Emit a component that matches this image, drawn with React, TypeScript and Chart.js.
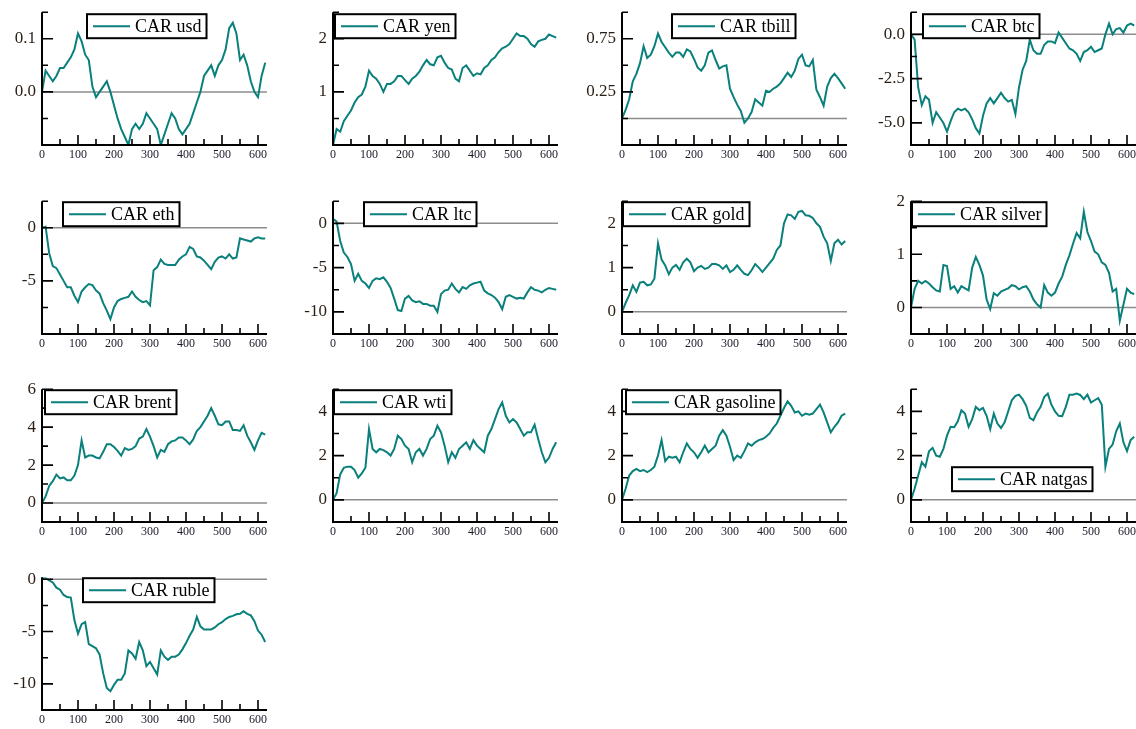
import React, { useEffect, useRef } from "react";
import { Chart, registerables } from "chart.js";

Chart.register(...registerables);

// Event-day index shared by every series (one reading every 10 days)
const DAYS = [
  0, 10, 20, 30, 40, 50, 60, 70, 80, 90, 100, 110, 120, 130, 140, 150, 160, 170, 180, 190,
  200, 210, 220, 230, 240, 250, 260, 270, 280, 290, 300, 310, 320, 330, 340, 350, 360, 370, 380, 390,
  400, 410, 420, 430, 440, 450, 460, 470, 480, 490, 500, 510, 520, 530, 540, 550, 560, 570, 580, 590,
  600, 610, 620,
];

// Cumulative abnormal returns
const CAR_USD = [
  0.0, 0.04, 0.03, 0.02, 0.03, 0.045, 0.045, 0.055, 0.065, 0.08,
  0.11, 0.095, 0.07, 0.06, 0.01, -0.01, 0.0, 0.01, 0.02, 0.0,
  -0.025, -0.05, -0.07, -0.085, -0.1, -0.07, -0.06, -0.07, -0.06, -0.04,
  -0.05, -0.06, -0.07, -0.1, -0.08, -0.06, -0.04, -0.05, -0.07, -0.08,
  -0.07, -0.06, -0.04, -0.02, 0.0, 0.03, 0.04, 0.05, 0.03, 0.05,
  0.06, 0.08, 0.12, 0.13, 0.11, 0.06, 0.07, 0.05, 0.02, 0.0,
  -0.01, 0.03, 0.055,
];
const CAR_YEN = [
  0.0, 0.3, 0.25, 0.45, 0.55, 0.65, 0.8, 0.9, 0.95, 1.1,
  1.4, 1.3, 1.25, 1.15, 1.0, 1.15, 1.15, 1.2, 1.3, 1.3,
  1.22, 1.15, 1.25, 1.3, 1.38, 1.5, 1.6, 1.52, 1.5, 1.65,
  1.68, 1.55, 1.45, 1.42, 1.25, 1.2, 1.45, 1.5, 1.4, 1.3,
  1.35, 1.33, 1.45, 1.5, 1.6, 1.65, 1.75, 1.82, 1.85, 1.9,
  2.0, 2.1, 2.05, 2.05, 2.0, 1.9, 1.85, 1.95, 1.98, 2.0,
  2.08, 2.05, 2.02,
];
const CAR_TBILL = [
  0.0, 0.08, 0.18, 0.35, 0.42, 0.52, 0.68, 0.57, 0.6, 0.68,
  0.8, 0.72, 0.67, 0.62, 0.58, 0.62, 0.62, 0.58, 0.65, 0.63,
  0.56, 0.48, 0.45, 0.5, 0.62, 0.64, 0.55, 0.47, 0.49, 0.5,
  0.28, 0.2, 0.13, 0.07, -0.04, 0.0, 0.06, 0.18, 0.15, 0.12,
  0.26, 0.25, 0.28, 0.3, 0.33, 0.38, 0.43, 0.39, 0.45, 0.56,
  0.6, 0.5, 0.49, 0.55, 0.27, 0.2, 0.12, 0.3, 0.38, 0.42,
  0.38, 0.33, 0.28,
];
const CAR_BTC = [
  0.0, -0.3, -3.0, -4.0, -3.5, -3.7, -5.0, -4.4, -4.7, -5.0,
  -5.5, -4.9, -4.4, -4.2, -4.3, -4.2, -4.4, -4.8, -5.3, -5.6,
  -4.6, -3.9, -3.6, -3.9, -3.6, -3.3, -3.6, -3.8, -3.7, -4.5,
  -3.0, -2.0, -1.5, -0.3, -0.9, -1.1, -1.1, -0.6, -0.4, -0.4,
  -0.5, 0.1, -0.2, -0.5, -0.8, -0.9, -1.1, -1.5, -1.0, -0.9,
  -0.7, -1.0, -0.9, -0.8, 0.0, 0.6, 0.0, 0.3, 0.35, 0.1,
  0.5, 0.6, 0.5,
];
const CAR_ETH = [
  0.0, 0.1, -2.4, -3.6, -3.8, -4.4, -5.0, -5.6, -5.6, -6.4,
  -7.0, -6.0, -5.6, -5.3, -5.4, -5.9, -6.2, -7.1, -7.8, -8.6,
  -7.5, -6.9, -6.7, -6.6, -6.5, -6.0, -6.5, -6.8, -7.0, -6.9,
  -7.3, -4.0, -3.7, -3.0, -3.4, -3.5, -3.5, -3.5, -3.0, -2.7,
  -2.5, -1.8, -2.0, -2.7, -2.8, -3.1, -3.5, -3.9, -3.2, -2.8,
  -2.7, -2.9, -2.5, -2.9, -2.8, -1.0, -1.1, -1.2, -1.3, -1.0,
  -0.9, -1.0, -1.0,
];
const CAR_LTC = [
  0.5, 0.2, -2.0, -3.3, -3.8, -4.6, -6.5, -5.7, -6.5, -6.8,
  -7.3, -6.5, -6.2, -6.3, -6.1, -6.6, -7.3, -8.5, -9.8, -9.9,
  -8.5, -8.2, -8.7, -8.9, -8.8, -9.1, -9.1, -9.3, -9.3, -10.0,
  -8.0, -7.6, -7.5, -6.8, -7.4, -7.8, -7.2, -7.4, -7.0, -6.8,
  -6.7, -6.6, -7.6, -7.9, -8.1, -8.4, -8.9, -9.7, -8.3, -8.1,
  -8.3, -8.5, -8.4, -8.5, -7.8, -7.2, -7.5, -7.6, -7.8, -7.5,
  -7.3, -7.4, -7.5,
];
const CAR_GOLD = [
  0.0, 0.2, 0.38, 0.6, 0.45, 0.66, 0.68, 0.6, 0.62, 0.75,
  1.55, 1.18, 1.05, 0.85, 1.0, 1.06, 0.95, 1.12, 1.2, 1.12,
  0.92, 1.0, 1.04, 0.97, 1.0, 1.08, 1.08, 1.05, 0.97, 1.05,
  0.9, 0.95, 1.05, 0.95, 0.86, 0.83, 0.94, 1.08, 1.0, 0.9,
  1.0, 1.1, 1.2, 1.4, 1.5, 2.0, 2.2, 2.18, 2.1, 2.26,
  2.28, 2.18, 2.17, 2.12, 2.0, 1.92, 1.7, 1.55, 1.15, 1.55,
  1.63, 1.52, 1.6,
];
const CAR_SILVER = [
  0.0, 0.35, 0.5, 0.45, 0.5, 0.45, 0.38, 0.32, 0.3, 0.8,
  0.78, 0.35, 0.4, 0.28, 0.4, 0.36, 0.32, 0.75, 0.95, 0.8,
  0.6, 0.15, -0.03, 0.27, 0.22, 0.3, 0.33, 0.36, 0.42, 0.4,
  0.34, 0.38, 0.4, 0.3, 0.15, 0.06, 0.0, 0.42, 0.28, 0.22,
  0.28, 0.45, 0.58, 0.8, 0.98, 1.2, 1.4, 1.3, 1.8, 1.42,
  1.25, 1.05, 1.0, 0.85, 0.8, 0.65, 0.3, 0.35, -0.25, 0.05,
  0.35, 0.28, 0.25,
];
const CAR_BRENT = [
  0.0, 0.35, 0.9, 1.15, 1.5, 1.3, 1.35, 1.2, 1.2, 1.45,
  2.0, 3.3, 2.4, 2.5, 2.5, 2.4, 2.35, 2.7, 3.1, 3.1,
  2.95, 2.75, 2.5, 2.9, 2.8, 2.85, 3.0, 3.4, 3.5, 3.9,
  3.5, 3.0, 2.4, 2.8, 2.7, 3.1, 3.25, 3.3, 3.45, 3.45,
  3.3, 3.1, 3.35, 3.8, 4.0, 4.3, 4.6, 5.0, 4.6, 4.15,
  4.1, 4.3, 4.3, 3.85, 3.85, 3.8, 4.1, 3.55, 3.2, 2.8,
  3.3, 3.7, 3.6,
];
const CAR_WTI = [
  0.0, 0.3, 1.15, 1.45, 1.5, 1.5, 1.35, 1.0, 1.2, 1.45,
  3.2, 2.3, 2.15, 2.3, 2.25, 2.15, 2.0, 2.3, 2.9, 2.75,
  2.45, 2.3, 1.7, 2.15, 2.3, 2.0, 2.3, 2.75, 2.9, 3.35,
  3.05, 2.45, 1.7, 2.15, 1.9, 2.3, 2.45, 2.6, 2.3, 2.7,
  2.45, 2.3, 2.15, 2.9, 3.2, 3.65, 4.1, 4.4, 3.8, 3.5,
  3.65, 3.5, 3.2, 2.9, 3.05, 3.05, 3.4, 2.75, 2.15, 1.7,
  1.9, 2.3, 2.6,
];
const CAR_GASOLINE = [
  0.0, 0.5, 1.1, 1.3, 1.4, 1.3, 1.35, 1.25, 1.35, 1.5,
  2.0, 2.7, 1.75, 1.95, 1.9, 1.95, 1.7, 2.15, 2.55, 2.3,
  2.15, 1.9, 2.15, 2.45, 2.15, 2.3, 2.45, 2.9, 3.15, 2.9,
  2.4, 1.8, 2.0, 1.9, 2.2, 2.55, 2.45, 2.6, 2.7, 2.75,
  2.85, 3.0, 3.25, 3.45, 3.8, 4.15, 4.45, 4.25, 3.95, 4.0,
  3.8, 3.9, 3.85, 3.9, 4.1, 4.3, 3.95, 3.5, 3.05, 3.3,
  3.5, 3.8, 3.9,
];
const CAR_NATGAS = [
  0.0, 0.5, 1.1, 1.7, 1.5, 2.2, 2.35, 2.0, 1.95, 2.3,
  2.9, 3.3, 3.28, 3.55, 4.05, 3.9, 3.3, 3.65, 4.2, 4.05,
  4.15, 3.8, 3.2, 3.9, 3.45, 3.25, 3.5, 4.0, 4.5, 4.7,
  4.75, 4.55, 4.25, 3.7, 3.6, 3.95, 4.2, 4.65, 4.8, 4.3,
  4.0, 3.8, 3.78, 4.2, 4.75, 4.75, 4.8, 4.74, 4.55, 4.75,
  4.4, 4.5, 4.6, 4.3, 1.5, 2.3, 2.5, 3.1, 3.45, 2.6,
  2.2, 2.7, 2.85,
];
const CAR_RUBLE = [
  0.1, 0.1, -0.1, -0.3, -0.8, -1.0, -1.5, -1.7, -1.75, -3.9,
  -5.2, -4.3, -4.1, -6.2, -6.4, -6.6, -7.2, -9.0, -10.4, -10.7,
  -10.1, -9.6, -9.6, -9.0, -6.8, -7.1, -7.6, -6.0, -6.8, -8.3,
  -7.9, -8.5, -9.1, -6.8, -7.4, -7.7, -7.4, -7.4, -7.2, -6.7,
  -6.1, -5.4, -4.8, -3.6, -4.5, -4.8, -4.8, -4.8, -4.6, -4.3,
  -4.1, -3.8, -3.6, -3.5, -3.35, -3.3, -3.05, -3.3, -3.45, -4.0,
  -4.9, -5.3, -6.0,
];

// Axis tick labels
const X_TICKS = [0, 50, 100, 150, 200, 250, 300, 350, 400, 450, 500, 550, 600];
const X_TICK_LABELS = ["0", "100", "200", "300", "400", "500", "600"];
const Y_LABELS_USD = ["0.1", "0.0"];
const Y_LABELS_YEN = ["2", "1"];
const Y_LABELS_TBILL = ["0.75", "0.25"];
const Y_LABELS_BTC = ["0.0", "-2.5", "-5.0"];
const Y_LABELS_ETH = ["0", "-5"];
const Y_LABELS_LTC = ["0", "-5", "-10"];
const Y_LABELS_GOLD = ["2", "1", "0"];
const Y_LABELS_SILVER = ["2", "1", "0"];
const Y_LABELS_BRENT = ["6", "4", "2", "0"];
const Y_LABELS_OIL = ["4", "2", "0"];
const Y_LABELS_RUBLE = ["0", "-5", "-10"];

type Panel = {
  name: string;
  values: number[];
  yMin: number;
  yMax: number;
  yStep: number;
  yLabels: string[];
  col: number;
  row: number;
  legendDx: number;
  legendDy: number;
};

const PANELS: Panel[] = [
  { name: "CAR usd", values: CAR_USD, yMin: -0.1, yMax: 0.15, yStep: 0.05, yLabels: Y_LABELS_USD, col: 0, row: 0, legendDx: 45, legendDy: 2 },
  { name: "CAR yen", values: CAR_YEN, yMin: 0, yMax: 2.5, yStep: 0.5, yLabels: Y_LABELS_YEN, col: 1, row: 0, legendDx: 2, legendDy: 2 },
  { name: "CAR tbill", values: CAR_TBILL, yMin: -0.25, yMax: 1.0, yStep: 0.25, yLabels: Y_LABELS_TBILL, col: 2, row: 0, legendDx: 50, legendDy: 2 },
  { name: "CAR btc", values: CAR_BTC, yMin: -6.25, yMax: 1.25, yStep: 1.25, yLabels: Y_LABELS_BTC, col: 3, row: 0, legendDx: 12, legendDy: 2 },
  { name: "CAR eth", values: CAR_ETH, yMin: -10, yMax: 2.5, yStep: 2.5, yLabels: Y_LABELS_ETH, col: 0, row: 1, legendDx: 21, legendDy: 1 },
  { name: "CAR ltc", values: CAR_LTC, yMin: -12.5, yMax: 2.5, yStep: 2.5, yLabels: Y_LABELS_LTC, col: 1, row: 1, legendDx: 31, legendDy: 1 },
  { name: "CAR gold", values: CAR_GOLD, yMin: -0.5, yMax: 2.5, yStep: 0.5, yLabels: Y_LABELS_GOLD, col: 2, row: 1, legendDx: 1, legendDy: 1 },
  { name: "CAR silver", values: CAR_SILVER, yMin: -0.5, yMax: 2.0, yStep: 0.5, yLabels: Y_LABELS_SILVER, col: 3, row: 1, legendDx: 1, legendDy: 1 },
  { name: "CAR brent", values: CAR_BRENT, yMin: -1, yMax: 6, yStep: 1, yLabels: Y_LABELS_BRENT, col: 0, row: 2, legendDx: 3, legendDy: 1 },
  { name: "CAR wti", values: CAR_WTI, yMin: -1, yMax: 5, yStep: 1, yLabels: Y_LABELS_OIL, col: 1, row: 2, legendDx: 1, legendDy: 1 },
  { name: "CAR gasoline", values: CAR_GASOLINE, yMin: -1, yMax: 5, yStep: 1, yLabels: Y_LABELS_OIL, col: 2, row: 2, legendDx: 4, legendDy: 1 },
  { name: "CAR natgas", values: CAR_NATGAS, yMin: -1, yMax: 5, yStep: 1, yLabels: Y_LABELS_OIL, col: 3, row: 2, legendDx: 41, legendDy: 78 },
  { name: "CAR ruble", values: CAR_RUBLE, yMin: -12.5, yMax: 0.2, yStep: 2.5, yLabels: Y_LABELS_RUBLE, col: 0, row: 3, legendDx: 41, legendDy: 1 },
];

// Layout of the 4-column grid (page pixels)
const COL_LEFT = [42, 333, 622, 911];
const ROW_TOP = [8, 197, 385, 573];
const AREA_W = 225;
const AREA_H = 137;
const Y_AXIS_W = 46;
const PAD_T = 12;
const PAD_R = 6;
const X_AXIS_H = 22;
const CANVAS_W = Y_AXIS_W + AREA_W + PAD_R;
const CANVAS_H = PAD_T + AREA_H + X_AXIS_H;

const X_MAX = 625;
const LINE_COLOR = "#0a807c";
const ZERO_COLOR = "#8c8c8c";
const SERIF = '"Liberation Serif", "Times New Roman", serif';

function yTickValues(p: Panel): number[] {
  const out: number[] = [];
  const start = Math.ceil(p.yMin / p.yStep - 1e-9);
  for (let k = start; k * p.yStep <= p.yMax + 1e-9; k++) {
    out.push(Math.round(k * p.yStep * 1e6) / 1e6);
  }
  return out;
}

function labelFor(labels: string[], v: number): string {
  const hit = labels.find((l) => Math.abs(parseFloat(l) - v) < 1e-6);
  return hit ?? "";
}

// Axes with inward ticks, the zero reference line and the boxed legend
const panelFrame = {
  id: "panelFrame",
  beforeDatasetsDraw(chart: any) {
    const { ctx, chartArea: a, scales } = chart;
    const y0 = scales.y.getPixelForValue(0);
    if (y0 >= a.top - 0.5 && y0 <= a.bottom + 0.5) {
      ctx.save();
      ctx.strokeStyle = ZERO_COLOR;
      ctx.lineWidth = 1.5;
      ctx.beginPath();
      ctx.moveTo(a.left, y0);
      ctx.lineTo(a.right, y0);
      ctx.stroke();
      ctx.restore();
    }
  },
  afterDatasetsDraw(chart: any, _args: any, opts: any) {
    const { ctx, chartArea: a, scales } = chart;
    ctx.save();
    ctx.strokeStyle = "#000";
    ctx.lineWidth = 2;
    ctx.beginPath();
    ctx.moveTo(a.left, a.top);
    ctx.lineTo(a.left, a.bottom);
    ctx.lineTo(a.right, a.bottom);
    ctx.stroke();

    ctx.lineWidth = 1.6;
    ctx.beginPath();
    for (const t of scales.x.ticks) {
      const px = scales.x.getPixelForValue(t.value);
      const len = X_TICK_LABELS.includes(String(t.value)) ? 10 : 6;
      ctx.moveTo(px, a.bottom);
      ctx.lineTo(px, a.bottom - len);
    }
    for (const t of scales.y.ticks) {
      const py = scales.y.getPixelForValue(t.value);
      const len = labelFor(opts.yLabels, t.value) ? 11 : 6;
      ctx.moveTo(a.left, py);
      ctx.lineTo(a.left + len, py);
    }
    ctx.stroke();

    // legend
    ctx.font = `18px ${SERIF}`;
    const textW = ctx.measureText(opts.name).width;
    const bx = a.left + opts.legendDx;
    const by = a.top + opts.legendDy;
    const bw = 6 + 37 + 5 + textW + 5;
    const bh = 24;
    ctx.fillStyle = "#fff";
    ctx.fillRect(bx, by, bw, bh);
    ctx.strokeStyle = "#000";
    ctx.lineWidth = 2;
    ctx.strokeRect(bx, by, bw, bh);
    ctx.strokeStyle = LINE_COLOR;
    ctx.lineWidth = 2;
    ctx.beginPath();
    ctx.moveTo(bx + 6, by + bh / 2);
    ctx.lineTo(bx + 43, by + bh / 2);
    ctx.stroke();
    ctx.fillStyle = "#000";
    ctx.textBaseline = "middle";
    ctx.textAlign = "left";
    ctx.fillText(opts.name, bx + 48, by + bh / 2 + 1);
    ctx.restore();
  },
};

function PanelChart({ panel }: { panel: Panel }) {
  const ref = useRef<HTMLCanvasElement>(null);

  useEffect(() => {
    if (!ref.current) return;
    const yTicks = yTickValues(panel);
    const chart = new Chart(ref.current, {
      type: "line",
      data: {
        datasets: [
          {
            label: panel.name,
            data: DAYS.map((d, i) => ({ x: d, y: panel.values[i] })),
            borderColor: LINE_COLOR,
            borderWidth: 2,
            pointRadius: 0,
            fill: false,
            tension: 0,
          },
        ],
      },
      options: {
        animation: false,
        responsive: false,
        maintainAspectRatio: false,
        events: [],
        layout: { padding: { top: PAD_T, right: PAD_R, left: 0, bottom: 0 } },
        plugins: {
          legend: { display: false },
          tooltip: { enabled: false },
          panelFrame: {
            name: panel.name,
            yLabels: panel.yLabels,
            legendDx: panel.legendDx,
            legendDy: panel.legendDy,
          },
        } as any,
        scales: {
          x: {
            type: "linear",
            min: 0,
            max: X_MAX,
            afterBuildTicks: (s: any) => {
              s.ticks = X_TICKS.map((v) => ({ value: v }));
            },
            afterFit: (s: any) => {
              s.height = X_AXIS_H;
            },
            grid: { display: false, drawTicks: false },
            border: { display: false },
            ticks: {
              autoSkip: false,
              maxRotation: 0,
              padding: 3,
              color: "#1a1a2a",
              font: { family: SERIF, size: 12 },
              callback: (v: any) => (X_TICK_LABELS.includes(String(v)) ? String(v) : ""),
            },
          },
          y: {
            type: "linear",
            min: panel.yMin,
            max: panel.yMax,
            afterBuildTicks: (s: any) => {
              s.ticks = yTicks.map((v) => ({ value: v }));
            },
            afterFit: (s: any) => {
              s.width = Y_AXIS_W;
            },
            grid: { display: false, drawTicks: false },
            border: { display: false },
            ticks: {
              autoSkip: false,
              padding: 6,
              color: "#2a1e14",
              font: { family: SERIF, size: 17 },
              callback: (v: any) => labelFor(panel.yLabels, Number(v)),
            },
          },
        },
      },
      plugins: [panelFrame],
    } as any);
    return () => chart.destroy();
  }, [panel]);

  const left = COL_LEFT[panel.col] - Y_AXIS_W;
  const top = ROW_TOP[panel.row] - PAD_T;
  return (
    <canvas
      ref={ref}
      width={CANVAS_W}
      height={CANVAS_H}
      style={{ position: "absolute", left, top, width: CANVAS_W, height: CANVAS_H }}
    />
  );
}

export default function App() {
  return (
    <div
      style={{
        position: "absolute",
        left: 0,
        top: 0,
        width: 1136,
        height: 729,
        overflow: "hidden",
        background: "#fff",
      }}
    >
      {PANELS.map((p) => (
        <PanelChart key={p.name} panel={p} />
      ))}
    </div>
  );
}
